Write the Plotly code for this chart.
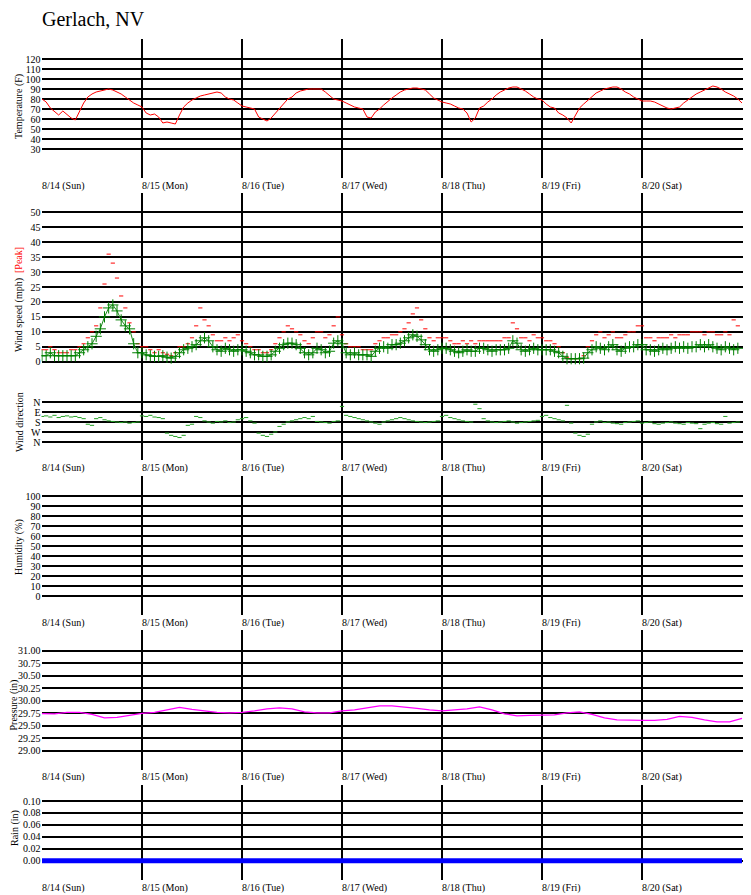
import plotly.graph_objects as go

# ---- values, 8/14 .. 8/20 ----
day_labels = ["8/14 (Sun)", "8/15 (Mon)", "8/16 (Tue)", "8/17 (Wed)",
              "8/18 (Thu)", "8/19 (Fri)", "8/20 (Sat)"]

# hourly temperature (F), one row per day, plus the last reading at 8/21 00:00
temp_d1 = [80, 77, 71, 67, 64, 68, 64, 61, 59, 67, 76, 82, 85, 87, 88, 89, 90, 89, 87, 85, 82, 79, 76, 74]
temp_d2 = [72, 66, 64, 65, 62, 56, 57, 56, 55, 64, 72, 76, 79, 81, 83, 84, 85, 86, 87, 86, 82, 80, 79, 76]
temp_d3 = [73, 72, 71, 70, 62, 60, 58, 61, 66, 71, 76, 80, 82, 86, 88, 89, 90, 90, 90, 90, 87, 83, 80, 79]
temp_d4 = [78, 76, 74, 72, 71, 70, 62, 61, 67, 70, 74, 78, 81, 84, 87, 89, 90, 91, 91, 90, 89, 85, 81, 79]
temp_d5 = [77, 76, 75, 73, 71, 70, 66, 57, 61, 71, 73, 77, 80, 84, 87, 89, 91, 92, 92, 90, 88, 85, 82, 80]
temp_d6 = [79, 75, 72, 71, 66, 64, 61, 56, 64, 71, 75, 79, 83, 86, 88, 90, 91, 92, 92, 90, 87, 85, 82, 80]
temp_d7 = [78, 78, 78, 77, 75, 73, 71, 70, 71, 72, 76, 79, 82, 85, 87, 89, 91, 93, 92, 90, 87, 85, 83, 80]
temp_end = [76]

# hourly average wind (mph)
wind_d1 = [2, 2, 3, 2, 2, 2, 2, 2, 2, 3, 4, 5, 6, 8.5, 11, 15, 18, 19, 17, 14, 12, 11, 6, 3]
wind_d2 = [3, 2.3, 2, 1.8, 1.8, 2, 1.5, 1.2, 1.8, 3, 4, 4.5, 5, 5.7, 7, 8, 7, 5, 4, 3.5, 4.5, 4, 3.5, 4]
wind_d3 = [4, 3.5, 3, 2.3, 2.3, 1.8, 1.8, 2.3, 3.5, 4.5, 5.7, 6.2, 6.2, 5.7, 4.5, 3, 2.3, 3, 4.5, 4, 3, 3.5, 6.2, 7]
wind_d4 = [6, 3, 2.3, 3, 2.3, 2.3, 2.3, 1.8, 3.5, 4.5, 5, 4.5, 5.7, 5.7, 6.2, 7, 8, 9, 8.5, 7.3, 5.7, 4, 3.5, 4]
wind_d5 = [4.5, 4.5, 4, 3.5, 3, 3.5, 4, 3.5, 3.5, 4.5, 4.5, 4, 3.5, 4, 4, 4, 4.5, 7, 6.2, 4, 3.5, 4, 4.5, 4]
wind_d6 = [4, 4, 4, 3.5, 3, 1.8, 1, 1, 1, 1, 1.2, 3, 4, 5, 4.5, 4, 5, 5.7, 4, 3.5, 4.5, 5, 5, 5.7]
wind_d7 = [5.7, 4, 4, 3.5, 4, 4.5, 4, 4.5, 5, 4.5, 5, 4.5, 5, 5, 5.7, 5, 5.7, 5, 4.5, 4, 5, 4.5, 4, 4.5]

# hourly peak gust (mph)
peak_d1 = [4, 4, 5, 4, 3, 3, 3, 4, 4, 5, 6, 8, 10, 12, 18, 26, 36, 33, 28, 22, 18, 13, 10, 6]
peak_d2 = [5, 5, 4, 3, 4, 3, 2.5, 2, 3, 5, 5, 6, 8, 12, 18, 14, 12, 9, 7, 7, 8, 7, 8, 9]
peak_d3 = [7, 6, 5, 4, 4, 3, 3, 4, 6, 8, 10, 12, 11, 10, 9, 7, 6, 8, 10, 10, 8, 9, 12, 15]
peak_d4 = [9, 6, 5, 5, 5, 4, 4, 4, 6, 7, 8, 8, 9, 9, 10, 11, 13, 16, 18, 14, 11, 8, 7, 8]
peak_d5 = [8, 8, 7, 6, 6, 7, 6, 7, 6, 7, 7, 7, 7, 7, 7, 8, 8, 13, 11, 8, 8, 7, 9, 8]
peak_d6 = [8, 7, 7, 6, 5, 3, 1.5, 1, 1, 1, 2, 5, 7, 9, 10, 8, 9, 10, 8, 8, 9, 10, 10, 12]
peak_d7 = [12, 8, 8, 7, 8, 8, 8, 9, 8, 9, 9, 9, 10, 10, 10, 9, 10, 10, 9, 9, 10, 9, 14, 12]

# hourly wind direction (degrees from N)
dir_d1 = [130, 125, 135, 120, 140, 130, 125, 135, 130, 140, 150, 200, 210, 150, 140, 160, 170, 175, 180, 185, 180, 190, 185, 180]
dir_d2 = [125, 130, 120, 135, 140, 150, 280, 300, 310, 320, 300, 210, 200, 130, 140, 170, 180, 190, 175, 180, 170, 185, 180, 160]
dir_d3 = [150, 140, 170, 190, 280, 300, 310, 290, 270, 220, 200, 180, 170, 160, 150, 140, 150, 130, 175, 180, 185, 190, 175, 170]
dir_d4 = [40, 120, 130, 140, 150, 160, 170, 180, 190, 200, 180, 170, 160, 150, 140, 150, 160, 170, 175, 180, 185, 180, 175, 170]
dir_d5 = [130, 120, 140, 150, 160, 170, 175, 180, 20, 60, 150, 170, 180, 185, 180, 175, 170, 180, 190, 185, 180, 175, 170, 165]
dir_d6 = [130, 120, 140, 150, 160, 170, 30, 190, 280, 300, 310, 290, 200, 180, 170, 185, 180, 190, 195, 200, 185, 180, 175, 170]
dir_d7 = [190, 185, 180, 195, 200, 190, 185, 180, 190, 195, 200, 185, 190, 195, 240, 200, 190, 185, 195, 200, 130, 190, 185, 180]

# pressure (in), every 3 hours, plus the last reading
pres_d1 = [29.745, 29.74, 29.77, 29.77, 29.73, 29.66, 29.67, 29.71]
pres_d2 = [29.75, 29.77, 29.82, 29.87, 29.83, 29.80, 29.77, 29.76]
pres_d3 = [29.77, 29.80, 29.84, 29.86, 29.84, 29.78, 29.76, 29.76]
pres_d4 = [29.80, 29.82, 29.86, 29.90, 29.90, 29.88, 29.85, 29.82]
pres_d5 = [29.80, 29.82, 29.84, 29.88, 29.82, 29.74, 29.70, 29.71]
pres_d6 = [29.71, 29.72, 29.76, 29.78, 29.73, 29.66, 29.62, 29.61]
pres_d7 = [29.61, 29.61, 29.63, 29.69, 29.67, 29.62, 29.58, 29.58]
pres_end = [29.65]

# rain (in), every 3 hours - dry all week
rain_d1 = [0.00, 0.00, 0.00, 0.00, 0.00, 0.00, 0.00, 0.00]
rain_d2 = [0.00, 0.00, 0.00, 0.00, 0.00, 0.00, 0.00, 0.00]
rain_d3 = [0.00, 0.00, 0.00, 0.00, 0.00, 0.00, 0.00, 0.00]
rain_d4 = [0.00, 0.00, 0.00, 0.00, 0.00, 0.00, 0.00, 0.00]
rain_d5 = [0.00, 0.00, 0.00, 0.00, 0.00, 0.00, 0.00, 0.00]
rain_d6 = [0.00, 0.00, 0.00, 0.00, 0.00, 0.00, 0.00, 0.00]
rain_d7 = [0.00, 0.00, 0.00, 0.00, 0.00, 0.00, 0.00, 0.00]
rain_end = [0.00]

# humidity sensor reported nothing this week
humidity_pct = []

temp_ticks = [30, 40, 50, 60, 70, 80, 90, 100, 110, 120]
wind_ticks = [0, 5, 10, 15, 20, 25, 30, 35, 40, 45, 50]
dir_ticks = [0, 90, 180, 270, 360]
dir_labels = ["N", "E", "S", "W", "N"]
hum_ticks = [0, 10, 20, 30, 40, 50, 60, 70, 80, 90, 100]
pres_ticks = [29.00, 29.25, 29.50, 29.75, 30.00, 30.25, 30.50, 30.75, 31.00]
rain_ticks = [0.00, 0.02, 0.04, 0.06, 0.08, 0.10]

temp_f = temp_d1 + temp_d2 + temp_d3 + temp_d4 + temp_d5 + temp_d6 + temp_d7 + temp_end
wind_avg = wind_d1 + wind_d2 + wind_d3 + wind_d4 + wind_d5 + wind_d6 + wind_d7
wind_peak = peak_d1 + peak_d2 + peak_d3 + peak_d4 + peak_d5 + peak_d6 + peak_d7
wind_dir = dir_d1 + dir_d2 + dir_d3 + dir_d4 + dir_d5 + dir_d6 + dir_d7
pressure_in = pres_d1 + pres_d2 + pres_d3 + pres_d4 + pres_d5 + pres_d6 + pres_d7 + pres_end
rain_in = rain_d1 + rain_d2 + rain_d3 + rain_d4 + rain_d5 + rain_d6 + rain_d7 + rain_end

hours_1h = list(range(len(temp_f)))
hours_3h = [3 * i for i in range(len(pressure_in))]

# ---- page geometry, in window pixels ----
# the html page puts the plot 8px in from the top-left, so the figure is
# made 8px smaller and every window position is shifted back by 8px
W, H = 751, 895
OFF = 8
FW, FH = W - OFF, H - OFF
PX_PER_HOUR = 100 / 24
X0 = 41.5
x_range = [-0.12, (W - X0) / PX_PER_HOUR - 0.12]
FONT = "Liberation Serif, Times New Roman, serif"
GRID = "#000000"

n_hours = 24 * len(day_labels)
day_starts = [24 * d for d in range(len(day_labels))]
six_hours = list(range(0, n_hours, 6))
each_hour = list(range(0, n_hours))


def px(x):
    return (x - OFF) / FW


def py(y):
    return 1 - (y - OFF) / FH


def ydom(top, bottom):
    return [py(bottom), py(top)]


# idx, top, bottom, range, tickvals, ticktext, tickformat, label row (None = no bottom axis)
panels = [
    (1, 39, 178, [1, 140], temp_ticks, None, None, 186),
    (2, 193, 380, [-6.12, 56.46], wind_ticks, None, None, None),
    (3, 380, 460, [522, -198], dir_ticks, dir_labels, None, 468),
    (4, 476, 615, [-19, 120], hum_ticks, None, None, 623),
    (5, 630, 770, [28.614, 31.42], pres_ticks, None, ".2f", 777),
    (6, 785, 880, [-0.0323, 0.1268], rain_ticks, None, ".2f", 888),
]

fig = go.Figure()

fig.add_trace(go.Scatter(x=hours_1h, y=temp_f, mode="lines",
                         line=dict(color="#ff0000", width=1), xaxis="x", yaxis="y"))
fig.add_trace(go.Scatter(x=hours_1h[:len(wind_peak)], y=wind_peak, mode="markers",
                         marker=dict(symbol="line-ew", size=3, line=dict(color="#ff0000", width=1)),
                         xaxis="x2", yaxis="y2"))
fig.add_trace(go.Scatter(x=hours_1h[:len(wind_avg)], y=wind_avg, mode="lines+markers",
                         line=dict(color="#1a8a1a", width=1),
                         marker=dict(symbol="cross-thin", size=8, line=dict(color="#008000", width=1)),
                         xaxis="x2", yaxis="y2"))
fig.add_trace(go.Scatter(x=hours_1h[:len(wind_dir)], y=wind_dir, mode="markers",
                         marker=dict(symbol="line-ew", size=3, line=dict(color="#22a022", width=1)),
                         xaxis="x3", yaxis="y3"))
fig.add_trace(go.Scatter(x=[], y=humidity_pct, mode="lines", xaxis="x4", yaxis="y4"))
fig.add_trace(go.Scatter(x=hours_3h, y=pressure_in, mode="lines",
                         line=dict(color="#ff00ff", width=1.3), xaxis="x5", yaxis="y5"))
fig.add_trace(go.Scatter(x=hours_3h, y=rain_in, mode="lines",
                         line=dict(color="#0000ff", width=5), xaxis="x6", yaxis="y6"))

layout = dict(
    width=FW, height=FH, margin=dict(l=0, r=0, t=0, b=0),
    paper_bgcolor="white", plot_bgcolor="white", showlegend=False,
    font=dict(family=FONT, size=10, color="black"),
)

annotations = []
overlay = 7
for idx, top, bottom, rng, tv, tt, fmt, label_px in panels:
    sfx = "" if idx == 1 else str(idx)
    # day boundaries as vertical grid lines
    layout["xaxis" + sfx] = dict(
        domain=[px(X0), 1], range=x_range, anchor="y" + sfx,
        tickmode="array", tickvals=day_starts, showgrid=True,
        gridcolor=GRID, gridwidth=2, ticks="", showticklabels=False,
        zeroline=False, showline=False, fixedrange=True,
    )
    yax = dict(
        domain=ydom(top, bottom), range=rng, anchor="x" + sfx,
        tickmode="array", tickvals=tv, showgrid=True, gridcolor=GRID, gridwidth=2,
        ticks="", zeroline=False, showline=False, fixedrange=True,
        tickfont=dict(family=FONT, size=10, color="black"),
    )
    if tt is not None:
        yax["ticktext"] = tt
    if fmt is not None:
        yax["tickformat"] = fmt
    layout["yaxis" + sfx] = yax

    if label_px is not None:
        # 6-hour ticks and hourly dots along the bottom
        layout["xaxis%d" % overlay] = dict(
            overlaying="x" + sfx, anchor="y" + sfx, range=x_range,
            tickmode="array", tickvals=six_hours, ticks="inside", ticklen=6,
            tickcolor="black", tickwidth=1, showticklabels=False, showgrid=False,
            zeroline=False, showline=False, fixedrange=True,
            minor=dict(tickmode="array", tickvals=each_hour, ticks="inside", ticklen=1,
                       tickcolor="black", tickwidth=1, showgrid=False),
        )
        overlay += 1
        for d, lab in enumerate(day_labels):
            annotations.append(dict(
                text=lab, x=day_starts[d], xref="x" + sfx, y=py(label_px), yref="paper",
                xanchor="left", yanchor="middle", showarrow=False, xshift=-2,
                font=dict(family=FONT, size=10, color="black"),
            ))

y_titles = [
    ("Temperature (F)", 19, 107),
    ("Wind speed (mph)  <span style='color:#ff0000'>[Peak]</span>", 19, 300),
    ("Wind direction", 19, 422),
    ("Humidity (%)", 19, 547),
    ("Pressure (in)", 13.5, 705),
    ("Rain (in)", 15, 828),
]
for text, xp, yp in y_titles:
    annotations.append(dict(
        text=text, x=px(xp), y=py(yp), xref="paper", yref="paper",
        xanchor="center", yanchor="middle", textangle=-90, showarrow=False,
        font=dict(family=FONT, size=10, color="black"),
    ))

annotations.append(dict(
    text="Gerlach, NV", x=px(40), y=py(19), xref="paper", yref="paper",
    xanchor="left", yanchor="middle", showarrow=False,
    font=dict(family=FONT, size=20, color="black"),
))

layout["annotations"] = annotations
fig.update_layout(**layout)

fig.write_html("out.html")
